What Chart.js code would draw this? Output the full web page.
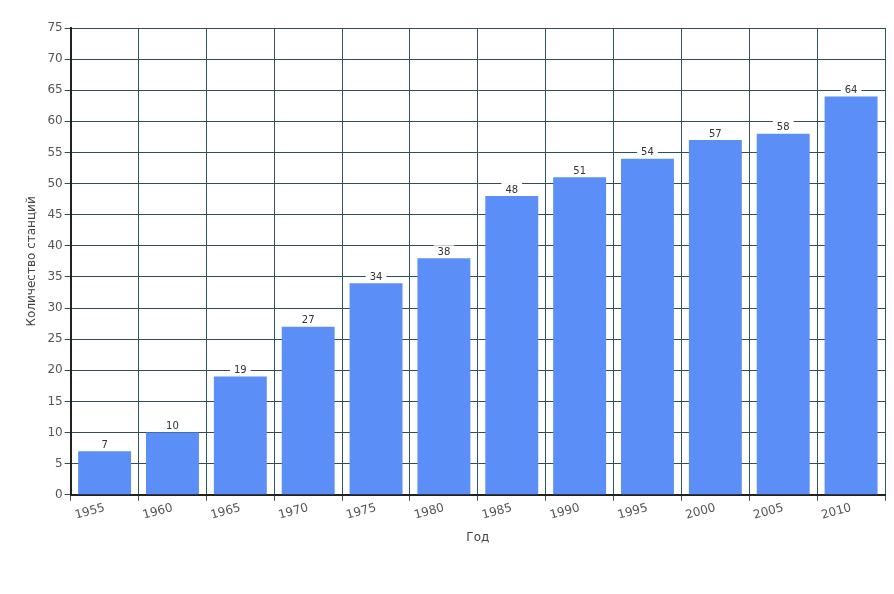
<!DOCTYPE html>
<html>
<head>
<meta charset="utf-8">
<script src="https://cdn.jsdelivr.net/npm/chart.js@4.4.0/dist/chart.umd.min.js"></script>
<style>
  html, body { margin: 0; padding: 0; background: #fff; }
  #wrap { width: 894px; height: 594px; }
</style>
</head>
<body>
<div id="wrap"><canvas id="metroChart" width="894" height="594"></canvas></div>
<script>
// Данные графика
const years = ['1955', '1960', '1965', '1970', '1975', '1980', '1985', '1990', '1995', '2000', '2005', '2010'];
const stations = [7, 10, 19, 27, 34, 38, 48, 51, 54, 57, 58, 64];
const yTicks = [0, 5, 10, 15, 20, 25, 30, 35, 40, 45, 50, 55, 60, 65, 70, 75];

// подписи над столбцами на белом фоне
const valueLabels = {
    id: 'valueLabels',
    afterDatasetsDraw(chart) {
        const c = chart.ctx;
        const meta = chart.getDatasetMeta(0);
        c.save();
        c.font = '10px "DejaVu Sans"';
        c.textAlign = 'center';
        c.textBaseline = 'bottom';
        meta.data.forEach((bar, i) => {
            const txt = String(stations[i]);
            const w = c.measureText(txt).width + 8;
            c.fillStyle = '#fff';
            c.fillRect(bar.x - w / 2, bar.y - 13, w, 12);
            c.fillStyle = '#333';
            c.fillText(txt, bar.x, bar.y - 1);
        });
        c.restore();
    }
};

const ctx = document.getElementById('metroChart').getContext('2d');
new Chart(ctx, {
    type: 'bar',
    data: {
        labels: years,
        datasets: [{
            data: stations,
            backgroundColor: '#5b8ef7',
            borderWidth: 0,
            categoryPercentage: 1.0,
            barPercentage: 0.78
        }]
    },
    options: {
        responsive: false,
        animation: false,
        layout: { padding: { top: 28, right: 9, bottom: 45, left: 21 } },
        plugins: {
            legend: { display: false },
            tooltip: { enabled: false }
        },
        scales: {
            x: {
                grid: { color: '#2f5566', lineWidth: 1, tickLength: 6, offset: true },
                border: { color: '#222', width: 2 },
                ticks: {
                    color: '#555',
                    font: { family: '"DejaVu Sans"', size: 12 },
                    minRotation: 15,
                    maxRotation: 15,
                    padding: 0
                },
                title: {
                    display: true,
                    text: 'Год',
                    color: '#444',
                    font: { family: '"DejaVu Sans"', size: 12 },
                    padding: { top: 8 }
                }
            },
            y: {
                min: 0,
                max: 75,
                afterBuildTicks(axis) { axis.ticks = yTicks.map(v => ({ value: v })); },
                grid: { color: '#2f4f55', lineWidth: 1, tickLength: 6 },
                border: { color: '#222', width: 2 },
                ticks: {
                    color: '#555',
                    font: { family: '"DejaVu Sans"', size: 12 },
                    padding: 2
                },
                title: {
                    display: true,
                    text: 'Количество станций',
                    color: '#444',
                    font: { family: '"DejaVu Sans"', size: 12 },
                    padding: { bottom: 6 }
                }
            }
        }
    },
    plugins: [valueLabels]
});
</script>
</body>
</html>
